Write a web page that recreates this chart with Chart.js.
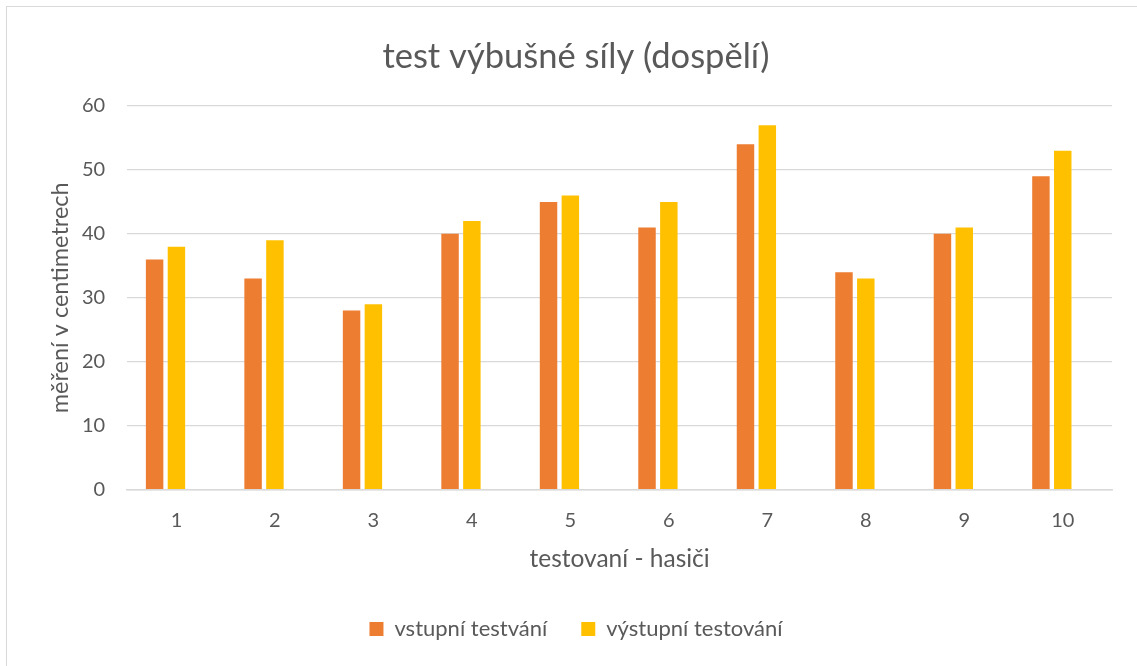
<!DOCTYPE html>
<html>
<head>
<meta charset="utf-8">
<script src="https://cdn.jsdelivr.net/npm/chart.js@4"></script>
<style>
  html, body { margin: 0; padding: 0; background: #fff; overflow: hidden; width: 1137px; height: 666px; }
  #frame {
    position: absolute; left: 6px; top: 6px; width: 1140px; height: 670px;
    border: 1.5px solid #d9d9d9; box-sizing: border-box;
  }
  #wrap { position: absolute; left: 7px; top: 7px; width: 1134px; height: 665px; }
</style>
</head>
<body>
<div id="frame"></div>
<div id="wrap"><canvas id="c"></canvas></div>
<script>
// tested firefighters 1..10
const categories = ['1', '2', '3', '4', '5', '6', '7', '8', '9', '10'];
// entry test (cm)
const entryValues = [36, 33, 28, 40, 45, 41, 54, 34, 40, 49];
// exit test (cm)
const exitValues = [38, 39, 29, 42, 46, 45, 57, 33, 41, 53];
// third, empty series of the workbook (keeps its slot in each group)
const emptySeries = [];

const seriesNames = ['vstupní testvání', 'výstupní testování'];
const yTicks = [0, 10, 20, 30, 40, 50, 60];

const FONT = 'Lato, "Open Sans", sans-serif';
const TEXT = '#595959';
const GRID = '#d9d9d9';

new Chart(document.getElementById('c'), {
  type: 'bar',
  data: {
    labels: categories,
    datasets: [
      { label: seriesNames[0], data: entryValues, backgroundColor: '#ED7D31' },
      { label: seriesNames[1], data: exitValues, backgroundColor: '#FFC000' },
      { label: '', data: emptySeries, backgroundColor: 'rgba(0,0,0,0)' }
    ]
  },
  options: {
    responsive: true,
    maintainAspectRatio: false,
    animation: false,
    categoryPercentage: 0.665,
    barPercentage: 0.8,
    layout: { padding: { left: 33, right: 29, top: 8, bottom: 22 } },
    plugins: {
      title: {
        display: true,
        text: 'test výbušné síly (dospělí)',
        color: TEXT,
        font: { family: FONT, size: 34.5, weight: 'normal' },
        padding: { top: 21.6, bottom: 28 }
      },
      legend: {
        position: 'bottom',
        labels: {
          color: TEXT,
          font: { family: FONT, size: 22 },
          boxWidth: 14,
          boxHeight: 14,
          padding: 34,
          filter: (item) => item.text !== ''
        }
      },
      tooltip: { enabled: false }
    },
    scales: {
      x: {
        grid: { display: false, drawTicks: false },
        border: { display: true, color: GRID, width: 1.5 },
        ticks: { color: TEXT, font: { family: FONT, size: 20 }, padding: 19 },
        title: {
          display: true,
          text: 'testovaní - hasiči',
          color: TEXT,
          font: { family: FONT, size: 24.5 },
          padding: { top: -7, bottom: 10 }
        }
      },
      y: {
        min: 0,
        max: 60,
        afterBuildTicks: (axis) => { axis.ticks = yTicks.map(v => ({ value: v })); },
        grid: { color: GRID, lineWidth: 1.3, drawTicks: false },
        border: { display: false },
        ticks: { color: TEXT, font: { family: FONT, size: 20 }, padding: 22 },
        title: {
          display: true,
          text: 'měření v centimetrech',
          color: TEXT,
          font: { family: FONT, size: 23.5 },
          padding: { top: 6.4, bottom: -14.6 }
        }
      }
    }
  }
});
</script>
</body>
</html>
